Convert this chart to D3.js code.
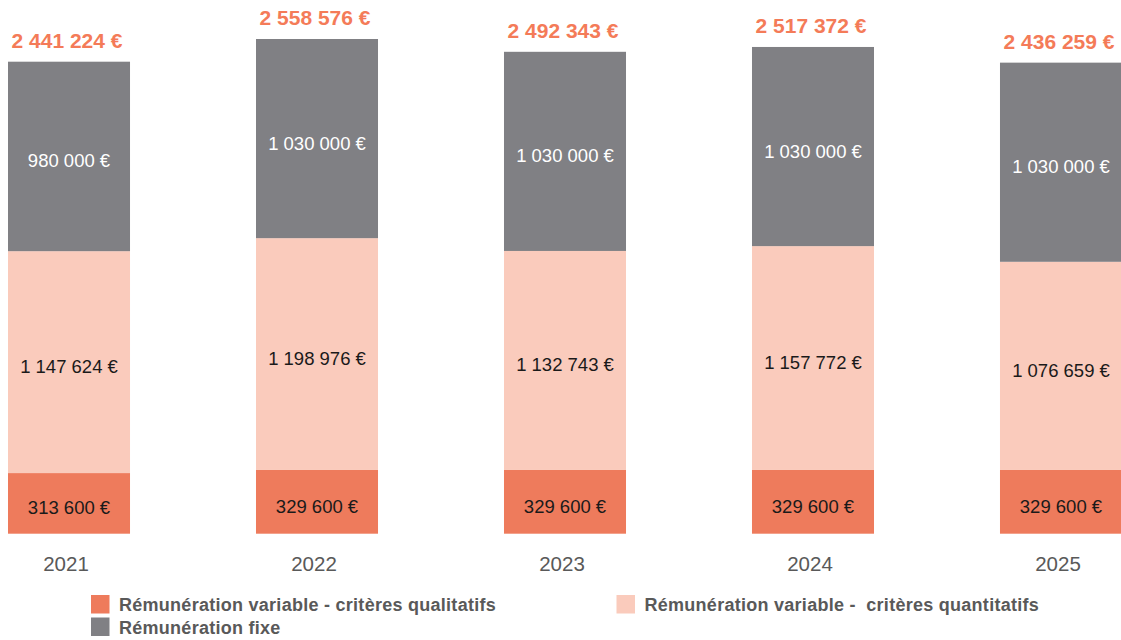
<!DOCTYPE html>
<html lang="fr">
<head>
<meta charset="utf-8">
<script src="https://cdn.jsdelivr.net/npm/d3@7"></script>
<style>
  html, body { margin: 0; padding: 0; background: #ffffff; }
  svg { display: block; font-family: "Liberation Sans", Arial, sans-serif; }
</style>
</head>
<body>
<svg id="chart" width="1121" height="640"></svg>
<script>
// Rémunération annuelle par composante (en euros)
const years = ["2021", "2022", "2023", "2024", "2025"];
const variableQualitatif = [313600, 329600, 329600, 329600, 329600];
const variableQuantitatif = [1147624, 1198976, 1132743, 1157772, 1076659];
const fixe = [980000, 1030000, 1030000, 1030000, 1030000];

const seriesKeys = ["qualitatif", "quantitatif", "fixe"];
const seriesLabels = {
  qualitatif: "Rémunération variable - critères qualitatifs",
  quantitatif: "Rémunération variable -  critères quantitatifs",
  fixe: "Rémunération fixe"
};
const colors = { qualitatif: "#EE7B5C", quantitatif: "#FACBBC", fixe: "#808084" };
const labelColors = { qualitatif: "#1a1a1a", quantitatif: "#1a1a1a", fixe: "#ffffff" };

const rows = years.map((y, i) => ({
  year: y,
  qualitatif: variableQualitatif[i],
  quantitatif: variableQuantitatif[i],
  fixe: fixe[i]
}));
const totals = rows.map(r => r.qualitatif + r.quantitatif + r.fixe);

const fmt = v => d3.format(",")(v).replace(/,/g, " ") + " €";

const svg = d3.select("#chart");

const x = d3.scaleBand()
  .domain(years)
  .range([8, 1122])
  .paddingInner(0.508)
  .paddingOuter(0);

const y = d3.scaleLinear()
  .domain([0, d3.max(totals)])
  .range([533.7, 39]);

const stacked = d3.stack().keys(seriesKeys)(rows);

// Stacked bars
const layers = svg.append("g").selectAll("g")
  .data(stacked)
  .join("g")
  .attr("fill", d => colors[d.key]);

layers.selectAll("rect")
  .data(d => d.map(p => Object.assign(p, { key: d.key })))
  .join("rect")
  .attr("x", d => x(d.data.year))
  .attr("width", x.bandwidth())
  .attr("y", d => y(d[1]))
  .attr("height", d => y(d[0]) - y(d[1]));

// Segment value labels
layers.selectAll("text")
  .data(d => d)
  .join("text")
  .attr("x", d => x(d.data.year) + x.bandwidth() / 2)
  .attr("y", d => (y(d[0]) + y(d[1])) / 2 + 11)
  .attr("text-anchor", "middle")
  .attr("font-size", "18.5px")
  .attr("fill", d => labelColors[d.key])
  .text(d => fmt(d[1] - d[0]));

// Totals above bars
svg.append("g").selectAll("text")
  .data(rows)
  .join("text")
  .attr("x", d => x(d.year) + x.bandwidth() / 2 - 2)
  .attr("y", (d, i) => y(totals[i]) - 14)
  .attr("text-anchor", "middle")
  .attr("font-size", "21px")
  .attr("font-weight", "bold")
  .attr("fill", "#F47B58")
  .text((d, i) => fmt(totals[i]));

// Year axis
const axis = svg.append("g")
  .attr("transform", "translate(-3,533.7)")
  .call(d3.axisBottom(x).tickSize(0).tickPadding(0));
axis.select(".domain").remove();
axis.selectAll("text")
  .attr("font-family", "\"Liberation Sans\", Arial, sans-serif")
  .attr("font-size", "20.5px")
  .attr("fill", "#595959")
  .attr("dy", null)
  .attr("y", 37.3);

// Legend
const legendItems = [
  { key: "qualitatif", x: 91, y: 595 },
  { key: "quantitatif", x: 616.5, y: 595 },
  { key: "fixe", x: 91, y: 617.5 }
];
const legend = svg.append("g").selectAll("g")
  .data(legendItems)
  .join("g")
  .attr("transform", d => `translate(${d.x},${d.y})`);
legend.append("rect")
  .attr("width", 18.5)
  .attr("height", 18.5)
  .attr("fill", d => colors[d.key]);
legend.append("text")
  .attr("x", 28)
  .attr("y", 16)
  .attr("font-size", "18px")
  .attr("font-weight", "bold")
  .attr("letter-spacing", "0.27px")
  .attr("fill", "#595959")
  .style("white-space", "pre")
  .text(d => seriesLabels[d.key]);
</script>
</body>
</html>
